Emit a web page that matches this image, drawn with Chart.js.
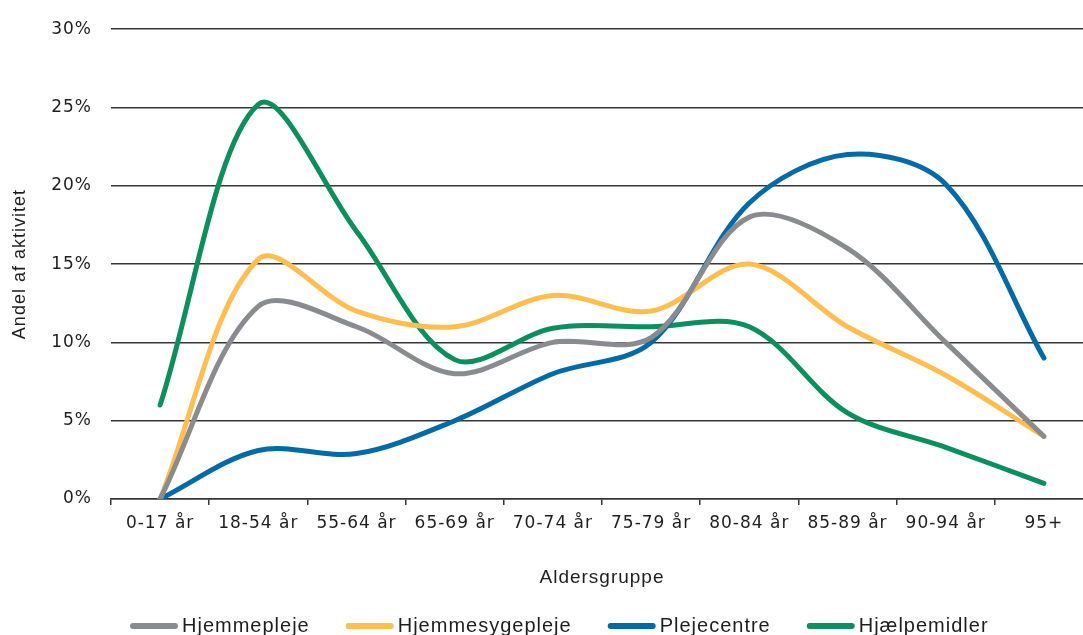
<!DOCTYPE html>
<html>
<head>
<meta charset="utf-8">
<script src="https://cdn.jsdelivr.net/npm/chart.js@4/dist/chart.umd.min.js"></script>
<style>
  html, body { margin: 0; padding: 0; background: #fff; overflow: hidden; }
  #wrap { width: 1093px; height: 635px; }
</style>
</head>
<body>
<div id="wrap"><canvas id="c" width="1093" height="635"></canvas></div>
<script>
// Age groups on the x axis
const categories = ['0-17 år', '18-54 år', '55-64 år', '65-69 år', '70-74 år',
                    '75-79 år', '80-84 år', '85-89 år', '90-94 år', '95+'];

// Share of activity per age group (%)
const hjemmepleje     = [0, 12.3, 11.0, 8.0, 10.0, 10.3, 18.0, 16.0, 10.0, 4.0];
const hjemmesygepleje = [0, 15.3, 12.0, 11.0, 13.0, 12.0, 15.0, 11.0, 7.9, 4.0];
const plejecentre     = [0, 3.1, 2.9, 5.0, 8.0, 10.0, 18.9, 22.0, 20.1, 9.0];
const hjaelpemidler   = [6.0, 25.2, 17.1, 8.9, 10.9, 11.0, 11.0, 5.5, 3.3, 1.0];

// Y axis tick values (%)
const yTicks = [0, 5, 10, 15, 20, 25, 30];

const seriesNames  = ['Hjemmepleje', 'Hjemmesygepleje', 'Plejecentre', 'Hjælpemidler'];
const seriesColors = ['#898b8e', '#ffbe4d', '#006ba8', '#0a8f5f'];
const seriesValues = [hjemmepleje, hjemmesygepleje, plejecentre, hjaelpemidler];

const TEXT = '#1e1e1e';
const GRID = '#363636';

// Slightly spaced lettering for all canvas text
const spacing = {
  id: 'spacing',
  beforeUpdate(chart) { chart.ctx.letterSpacing = '1px'; },
  beforeDraw(chart) { chart.ctx.letterSpacing = '1px'; }
};

// Legend row below the axis title: line swatch + label per series
const bottomLegend = {
  id: 'bottomLegend',
  afterDraw(chart) {
    const ctx = chart.ctx;
    ctx.save();
    ctx.letterSpacing = '1px';
    ctx.font = '20px "Liberation Sans", Arial, sans-serif';
    ctx.textBaseline = 'middle';
    ctx.fillStyle = TEXT;
    const y = 626;
    let x = 130;
    chart.data.datasets.forEach(ds => {
      ctx.strokeStyle = ds.borderColor;
      ctx.lineWidth = 6;
      ctx.lineCap = 'round';
      ctx.beginPath();
      ctx.moveTo(x + 3, y);
      ctx.lineTo(x + 45, y);
      ctx.stroke();
      x += 52;
      ctx.fillText(ds.label, x, y);
      x += ctx.measureText(ds.label).width + 36;
    });
    ctx.restore();
  }
};

new Chart(document.getElementById('c'), {
  type: 'line',
  data: {
    labels: categories,
    datasets: seriesValues.map((vals, i) => ({
      label: seriesNames[i],
      data: vals,
      borderColor: seriesColors[i],
      backgroundColor: seriesColors[i],
      borderWidth: 5,
      borderCapStyle: 'round',
      borderJoinStyle: 'round',
      pointRadius: 0,
      tension: 0.33,
      fill: false
    }))
  },
  options: {
    responsive: false,
    animation: false,
    layout: { padding: { top: 21, right: 0, bottom: 40, left: 0 } },
    plugins: {
      legend: { display: false },
      tooltip: { enabled: false }
    },
    scales: {
      x: {
        offset: true,
        grid: {
          offset: true,
          drawOnChartArea: false,
          drawTicks: true,
          tickLength: 6,
          color: GRID,
          lineWidth: 1.5
        },
        border: { display: true, color: GRID, width: 1.5 },
        ticks: {
          color: TEXT,
          padding: 8,
          maxRotation: 0,
          autoSkip: false,
          font: { family: '"DejaVu Sans", Verdana, sans-serif', size: 17 }
        },
        title: {
          display: true,
          text: 'Aldersgruppe',
          color: TEXT,
          font: { family: '"Liberation Sans", Arial, sans-serif', size: 19 },
          padding: { top: 0, bottom: 6 }
        },
        afterFit(scale) { scale.height = 96; }
      },
      y: {
        min: 0,
        max: 30,
        afterBuildTicks(scale) { scale.ticks = yTicks.map(v => ({ value: v })); },
        grid: {
          drawTicks: false,
          color: GRID,
          lineWidth: 1.5
        },
        border: { display: false },
        ticks: {
          color: TEXT,
          padding: 19,
          font: { family: '"DejaVu Sans", Verdana, sans-serif', size: 17 },
          callback: v => v + '%'
        },
        title: {
          display: true,
          text: 'Andel af aktivitet',
          color: TEXT,
          font: { family: '"Liberation Sans", Arial, sans-serif', size: 18 },
          padding: { top: 9, bottom: 0 }
        },
        afterFit(scale) { scale.width = 111; }
      }
    }
  },
  plugins: [spacing, bottomLegend]
});
</script>
</body>
</html>
